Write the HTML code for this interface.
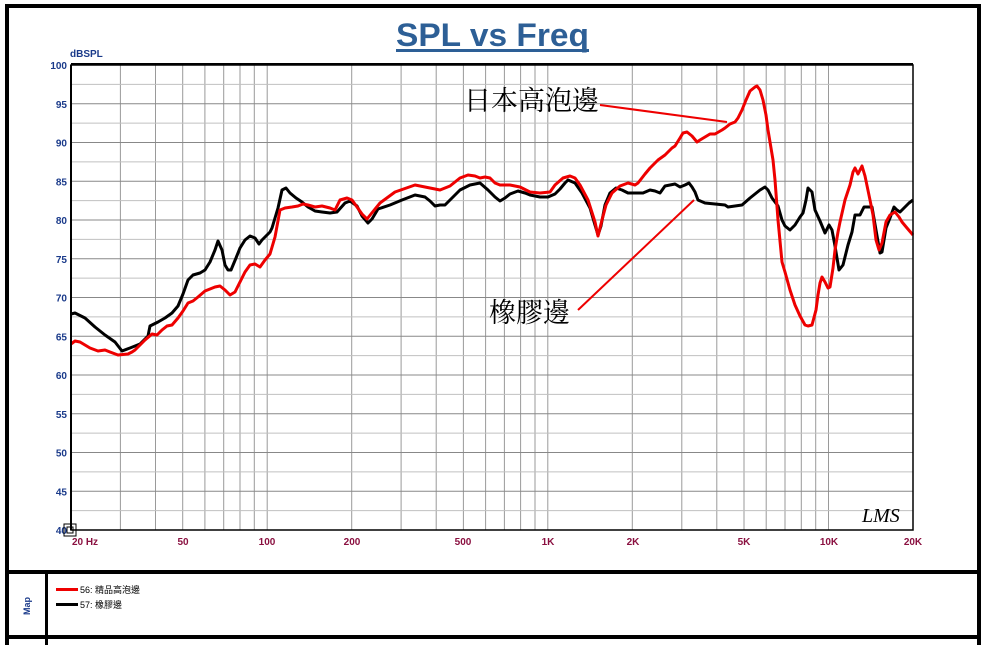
<!DOCTYPE html>
<html><head><meta charset="utf-8"><style>
html,body{margin:0;padding:0;background:#fff;}
svg{display:block;}
</style></head><body>
<svg width="984" height="645" viewBox="0 0 984 645" xmlns="http://www.w3.org/2000/svg" font-family="'Liberation Sans','Noto Sans CJK TC',sans-serif">
<rect x="0" y="0" width="984" height="645" fill="#fff"/>
<rect x="5" y="4" width="4" height="641" fill="#000"/>
<rect x="977" y="4" width="4" height="641" fill="#000"/>
<rect x="5" y="4" width="976" height="4" fill="#000"/>
<rect x="5" y="570" width="976" height="4" fill="#000"/>
<rect x="5" y="635" width="976" height="4" fill="#000"/>
<rect x="45" y="572" width="3" height="73" fill="#000"/>
<text x="396" y="46" font-size="32" font-weight="bold" fill="#2d5f96" textLength="193" lengthAdjust="spacingAndGlyphs">SPL vs Freq</text>
<rect x="396" y="49" width="193" height="3" fill="#2d5f96"/>
<g id="grid"></g>
<g id="curves"></g>
<rect x="71" y="65" width="842" height="465" fill="none" stroke="#000" stroke-width="1.5"/>
<line x1="71" y1="64" x2="913" y2="64" stroke="#000" stroke-width="2"/>
<line x1="71" y1="65" x2="71" y2="530" stroke="#000" stroke-width="2"/>
<text x="70" y="57" font-size="10" font-weight="bold" fill="#1a3a8a">dBSPL</text>
<g font-size="10" font-weight="bold" fill="#1a3a8a" text-anchor="end" id="ylab"></g>
<g font-size="10" font-weight="bold" fill="#8a1040" text-anchor="middle">
<text x="85" y="545">20 Hz</text><text x="183" y="545">50</text><text x="267" y="545">100</text>
<text x="352" y="545">200</text><text x="463" y="545">500</text><text x="548" y="545">1K</text>
<text x="633" y="545">2K</text><text x="744" y="545">5K</text><text x="829" y="545">10K</text><text x="913" y="545">20K</text>
</g>
<rect x="64" y="524" width="12" height="12" fill="none" stroke="#000" stroke-width="1"/>
<rect x="67" y="527" width="6" height="6" fill="none" stroke="#000" stroke-width="1"/>
<text x="862" y="522" font-size="20" font-style="italic" font-family="'Liberation Serif',serif">LMS</text>
<line x1="600" y1="105" x2="727" y2="122" stroke="#e00" stroke-width="2"/>
<line x1="578" y1="310" x2="694" y2="200" stroke="#e00" stroke-width="2"/>
<text x="464" y="110" font-size="27" fill="#000" font-family="'Noto Serif CJK SC','Noto Sans CJK TC',serif">日本高泡邊</text>
<text x="489" y="322" font-size="27" fill="#000" font-family="'Noto Serif CJK SC','Noto Sans CJK TC',serif">橡膠邊</text>
<text x="30" y="606" font-size="9" font-weight="bold" fill="#1a3a8a" transform="rotate(-90 30 606)" text-anchor="middle">Map</text>
<rect x="56" y="588" width="22" height="3" fill="#e00"/>
<rect x="56" y="603" width="22" height="3" fill="#000"/>
<text x="80" y="593" font-size="9">56: 精品高泡邊</text>
<text x="80" y="608" font-size="9">57: 橡膠邊</text>
</svg>
<script>
(function(){
function X(f){return 71+842*Math.log10(f/20)/3;}
function Y(d){return 65+(100-d)*7.75;}
var g=document.getElementById("grid"),s="";
var fs=[];
for(var dec=10;dec<=10000;dec*=10){for(var k=1;k<10;k++){var f=k*dec;if(f>20&&f<20000)fs.push(f);}}
fs.forEach(function(f){var x=X(f).toFixed(1);s+='<line x1="'+x+'" y1="65" x2="'+x+'" y2="530" stroke="#9a9a9a" stroke-width="1"/>';});
for(var d=42.5;d<100;d+=2.5){var y=Y(d).toFixed(1);var maj=(d%5===0);
s+='<line x1="71" y1="'+y+'" x2="913" y2="'+y+'" stroke="'+(maj?'#888':'#c0c0c0')+'" stroke-width="1"/>';}
g.innerHTML=s;
var yl="";for(var d=40;d<=100;d+=5){yl+='<text x="67" y="'+(Y(d)+4)+'">'+d+'</text>';}
document.getElementById("ylab").innerHTML=yl;
var black=[[71,314],[75,313],[85,318],[95,327],[105,335],[115,342],[122,351],[130,348],[140,344],[148,336],[150,326],[158,322],[165,318],[172,313],[178,306],[183,294],[188,280],[193,275],[200,273],[205,270],[210,262],[215,250],[218,241],[222,250],[225,265],[228,270],[231,270],[236,258],[240,248],[245,240],[250,236],[255,238],[259,244],[262,240],[266,236],[270,232],[272,228],[278,208],[282,190],[286,188],[290,193],[296,198],[302,202],[308,207],[315,211],[322,212],[330,213],[337,212],[345,203],[350,201],[357,206],[362,216],[368,223],[372,219],[378,209],[390,205],[402,200],[415,195],[425,197],[430,201],[435,206],[440,205],[445,205],[460,190],[470,185],[480,183],[488,190],[495,197],[500,201],[505,198],[510,194],[518,191],[525,193],[530,195],[540,197],[548,197],[555,194],[560,189],[565,183],[568,180],[575,183],[582,193],[590,208],[595,225],[598,235],[601,226],[605,205],[610,193],[616,188],[622,190],[628,193],[635,193],[643,193],[650,190],[655,191],[660,193],[665,186],[670,185],[675,184],[680,187],[685,185],[689,183],[692,187],[695,192],[698,200],[705,203],[715,204],[725,205],[728,207],[735,206],[742,205],[750,198],[760,190],[765,187],[768,190],[772,198],[778,206],[782,220],[785,226],[790,230],[795,225],[800,217],[803,213],[806,200],[808,188],[812,192],[815,210],[820,221],[825,233],[829,225],[832,230],[835,246],[839,270],[843,265],[848,245],[852,232],[855,215],[860,215],[864,207],[867,207],[872,207],[876,230],[880,253],[882,252],[886,228],[890,218],[894,207],[897,210],[900,212],[905,207],[909,203],[913,200]];
var red=[[71,344],[75,341],[80,342],[90,348],[98,351],[105,350],[110,352],[118,355],[128,354],[132,352],[135,350],[140,345],[145,340],[152,334],[157,335],[162,330],[167,326],[172,325],[178,318],[183,311],[188,303],[193,301],[198,297],[205,291],[210,289],[215,287],[220,286],[225,290],[230,295],[235,292],[240,282],[245,272],[250,265],[255,264],[260,267],[265,260],[270,254],[275,237],[280,210],[285,208],[292,207],[298,206],[303,204],[308,205],[315,207],[322,206],[330,208],[335,210],[340,200],[347,198],[352,200],[357,207],[362,214],[367,219],[371,214],[380,203],[395,192],[415,185],[425,187],[440,190],[450,186],[460,178],[468,175],[475,176],[480,178],[485,177],[490,178],[495,183],[500,185],[510,185],[520,187],[530,192],[540,193],[550,192],[555,185],[563,178],[570,176],[575,178],[580,185],[588,200],[595,222],[598,236],[602,220],[606,205],[612,193],[620,186],[628,183],[635,185],[638,183],[645,174],[650,168],[658,160],[665,155],[672,148],[675,146],[680,138],[683,133],[687,132],[692,136],[697,142],[700,140],[705,137],[710,134],[715,134],[722,130],[725,128],[730,124],[735,122],[738,118],[742,110],[746,100],[750,91],[755,87],[757,86],[760,90],[763,100],[766,115],[768,130],[770,142],[773,160],[775,180],[778,220],[782,262],[785,272],[790,290],[795,305],[800,316],[805,325],[808,326],[812,325],[816,310],[818,295],[820,283],[822,277],[825,282],[828,288],[830,287],[833,268],[835,250],[838,232],[840,222],[845,200],[850,185],[853,172],[855,168],[858,174],[862,166],[865,176],[870,200],[873,215],[876,240],[879,250],[882,243],[886,222],[890,215],[895,212],[899,217],[902,222],[907,228],[913,235]];
function pl(p,c){return '<polyline fill="none" stroke="'+c+'" stroke-width="3" stroke-linejoin="round" points="'+p.map(function(a){return a.join(",");}).join(" ")+'"/>';}
document.getElementById("curves").innerHTML=pl(black,"#000")+pl(red,"#e00");
})();
</script>
</body></html>
